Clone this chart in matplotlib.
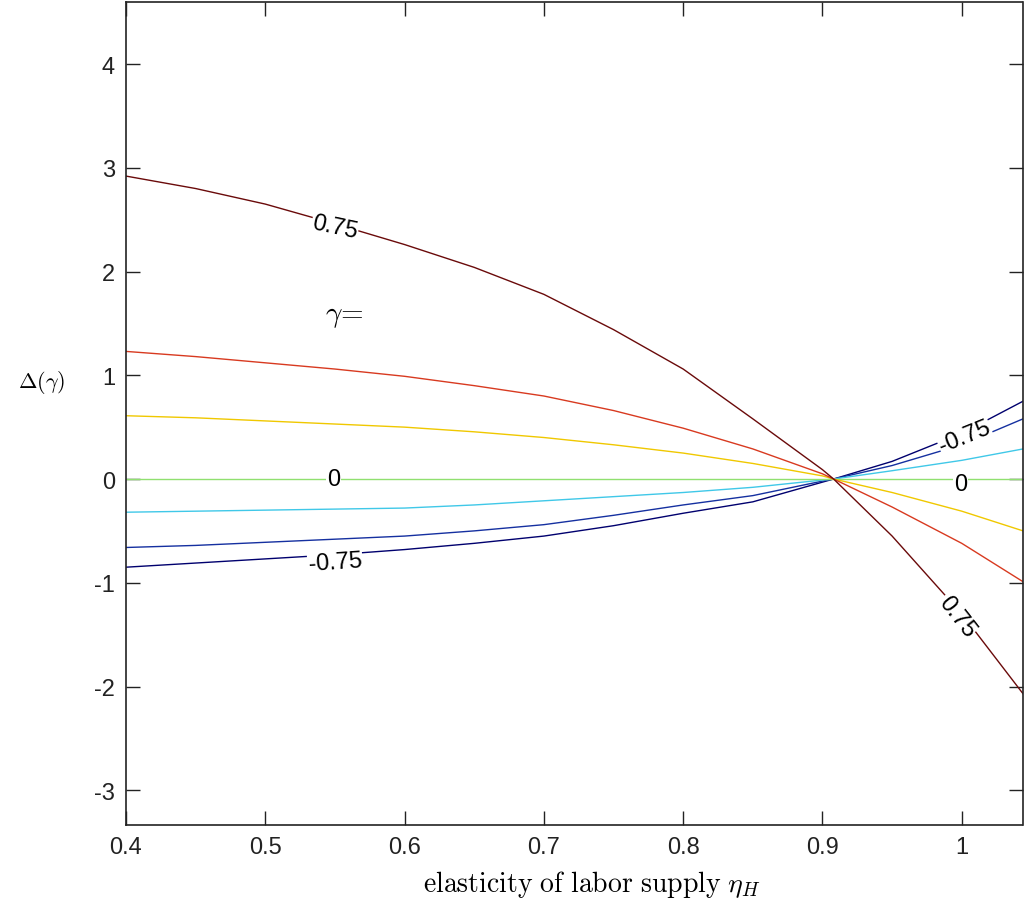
import matplotlib
matplotlib.use('Agg')
import matplotlib.pyplot as plt
import numpy as np

# elasticity of labor supply (x) and Delta(gamma) for each gamma contour
eta = [0.4, 0.45, 0.5, 0.55, 0.6, 0.65, 0.7, 0.75, 0.8, 0.85, 0.9, 0.908, 0.95, 1.0, 1.044]
gammas = [-0.75, -0.5, -0.25, 0, 0.25, 0.5, 0.75]
d_m075 = [-0.85, -0.81, -0.77, -0.73, -0.68, -0.62, -0.55, -0.45, -0.33, -0.22, -0.03, 0, 0.17, 0.44, 0.75]
d_m050 = [-0.66, -0.64, -0.61, -0.58, -0.55, -0.50, -0.44, -0.35, -0.25, -0.16, -0.02, 0, 0.13, 0.33, 0.58]
d_m025 = [-0.32, -0.31, -0.30, -0.29, -0.28, -0.25, -0.21, -0.17, -0.13, -0.08, -0.01, 0, 0.08, 0.18, 0.29]
d_000 = [0, 0, 0, 0, 0, 0, 0, 0, 0, 0, 0, 0, 0, 0, 0]
d_p025 = [0.61, 0.59, 0.56, 0.53, 0.50, 0.455, 0.40, 0.33, 0.25, 0.15, 0.03, 0, -0.13, -0.31, -0.50]
d_p050 = [1.23, 1.18, 1.12, 1.06, 0.99, 0.90, 0.80, 0.66, 0.49, 0.29, 0.05, 0, -0.27, -0.62, -0.99]
d_p075 = [2.92, 2.80, 2.65, 2.46, 2.26, 2.04, 1.78, 1.44, 1.06, 0.58, 0.09, 0, -0.55, -1.30, -2.07]
series = [d_m075, d_m050, d_m025, d_000, d_p025, d_p050, d_p075]
colors = ['#00006e', '#1530a0', '#40c8e8', '#90e070', '#f0c800', '#d83a20', '#6a0a0a']

xticks = [0.4, 0.5, 0.6, 0.7, 0.8, 0.9, 1.0]
xticklabels = ['0.4', '0.5', '0.6', '0.7', '0.8', '0.9', '1']
yticks = [-3, -2, -1, 0, 1, 2, 3, 4]

plt.rcParams['mathtext.fontset'] = 'cm'
plt.rcParams['axes.unicode_minus'] = False
plt.rcParams['font.family'] = ['Liberation Sans', 'DejaVu Sans']

fig = plt.figure(figsize=(10.24, 9.04), dpi=100)
ax = fig.add_axes([126 / 1024, 1 - 826 / 904, (1022.5 - 126) / 1024, 823 / 904])

for ys, c in zip(series, colors):
    ax.plot(eta, ys, color=c, lw=1.0, zorder=2)

ax.set_xlim(0.4, 1.0436)
ax.set_ylim(-3.335, 4.598)
ax.set_xticks(xticks)
ax.set_xticklabels(xticklabels)
ax.set_yticks(yticks)
ax.tick_params(direction='in', length=10, width=1, top=True, right=True,
               labelsize=17, pad=8, colors='#222222')
for s in ax.spines.values():
    s.set_linewidth(1.2)
    s.set_color('#222222')

# contour labels
lab = dict(fontsize=17, ha='center', va='center', zorder=3,
           bbox=dict(facecolor='white', edgecolor='none', pad=0.5))
ax.text(0.55, 2.43, '0.75', rotation=-12, **lab)
ax.text(0.549, 0.0, '0', **lab)
ax.text(0.55, -0.80, '-0.75', rotation=4, **lab)
ax.text(0.999, -0.05, '0', **lab)
ax.text(1.002, 0.41, '-0.75', rotation=22, **lab)
ax.text(0.9966, -1.32, '0.75', rotation=-52, **lab)
ax.text(0.5565, 1.58, r'$\gamma\!=$', fontsize=21, ha='center', va='center')

fig.text(42 / 1024, 1 - 383 / 904, r'$\Delta(\gamma)$', fontsize=16,
         ha='center', va='center')
fig.text(592 / 1024, 1 - 885 / 904, r'$\mathrm{elasticity\ of\ labor\ supply}\ \eta_H$',
         fontsize=20, ha='center', va='center')

fig.savefig('out.png', dpi=100)
print('plotting done, see out.png')
